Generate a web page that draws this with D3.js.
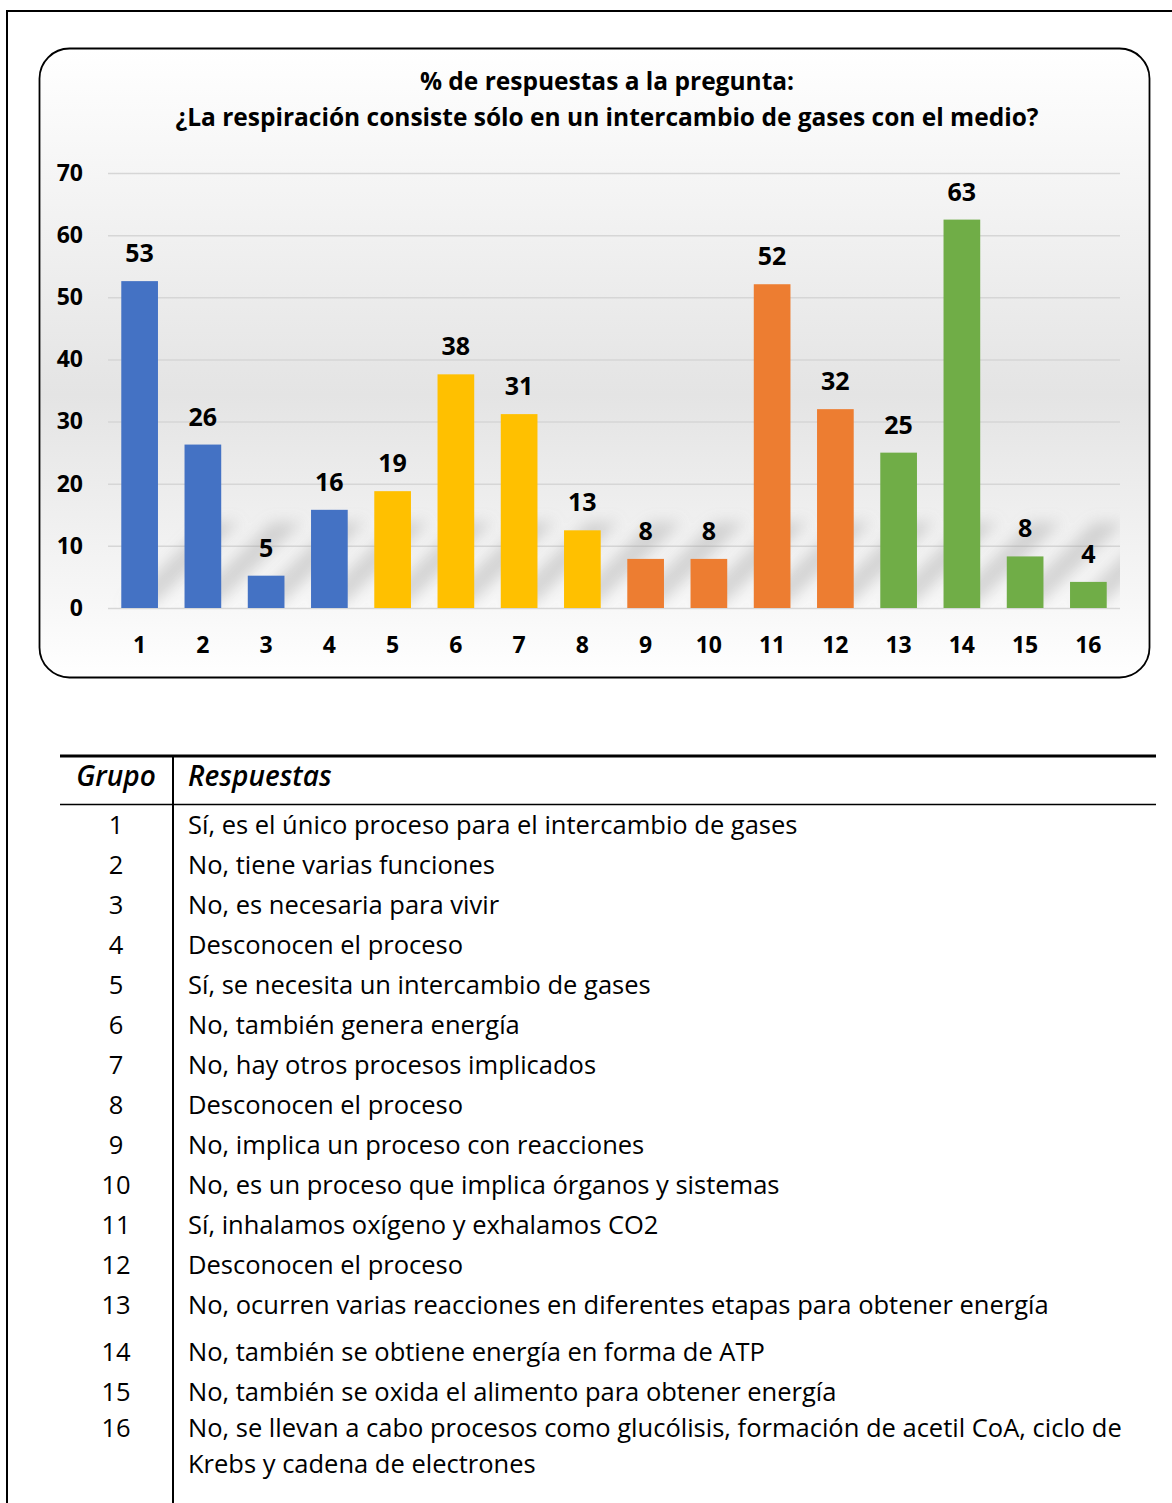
<!DOCTYPE html>
<html>
<head>
<meta charset="utf-8">
<script src="https://cdn.jsdelivr.net/npm/d3@7"></script>
<style>
  body { margin: 0; background: #fff; }
  text { font-family: "Open Sans", Lato, sans-serif; fill: #000; }
</style>
</head>
<body>
<div id="page"></div>
<script>
// data
var grupos = ["1","2","3","4","5","6","7","8","9","10","11","12","13","14","15","16"]
var porcentajes = [52.6, 26.3, 5.2, 15.8, 18.8, 37.6, 31.2, 12.5, 7.9, 7.9, 52.1, 32.0, 25.0, 62.5, 8.3, 4.2]
var colores = ["#4472C4","#4472C4","#4472C4","#4472C4",
               "#FFC000","#FFC000","#FFC000","#FFC000",
               "#ED7D31","#ED7D31","#ED7D31","#ED7D31",
               "#70AD47","#70AD47","#70AD47","#70AD47"]
var yTicks = [0, 10, 20, 30, 40, 50, 60, 70]
var titulo = ["% de respuestas a la pregunta:",
              "¿La respiración consiste sólo en un intercambio de gases con el medio?"]
var cabecera = ["Grupo", "Respuestas"]
var respuestas = [
  ["Sí, es el único proceso para el intercambio de gases"],
  ["No, tiene varias funciones"],
  ["No, es necesaria para vivir"],
  ["Desconocen el proceso"],
  ["Sí, se necesita un intercambio de gases"],
  ["No, también genera energía"],
  ["No, hay otros procesos implicados"],
  ["Desconocen el proceso"],
  ["No, implica un proceso con reacciones"],
  ["No, es un proceso que implica órganos y sistemas"],
  ["Sí, inhalamos oxígeno y exhalamos CO2"],
  ["Desconocen el proceso"],
  ["No, ocurren varias reacciones en diferentes etapas para obtener energía"],
  ["No, también se obtiene energía en forma de ATP"],
  ["No, también se oxida el alimento para obtener energía"],
  ["No, se llevan a cabo procesos como glucólisis, formación de acetil CoA, ciclo de",
   "Krebs y cadena de electrones"]
]

var W = 1172, H = 1503

var svg = d3.select("#page").append("svg")
  .attr("width", W)
  .attr("height", H)

var defs = svg.append("defs")
var grad = defs.append("linearGradient")
  .attr("id", "fondo")
  .attr("x1", 0).attr("y1", 0).attr("x2", 0).attr("y2", 1)
grad.append("stop").attr("offset", "0%").attr("stop-color", "#ffffff")
grad.append("stop").attr("offset", "55%").attr("stop-color", "#e4e4e4")
grad.append("stop").attr("offset", "88%").attr("stop-color", "#f7f7f7")
grad.append("stop").attr("offset", "100%").attr("stop-color", "#ffffff")

defs.append("filter").attr("id", "blur")
  .attr("x", "-50%").attr("y", "-50%").attr("width", "200%").attr("height", "200%")
  .append("feGaussianBlur").attr("stdDeviation", 7)

var x = d3.scaleBand()
  .domain(grupos)
  .range([108, 1120])
  .paddingInner(0.42)
  .paddingOuter(0.21)

var y = d3.scaleLinear()
  .domain([0, 70])
  .range([608, 173])

defs.append("clipPath").attr("id", "zona")
  .append("rect")
  .attr("x", x.range()[0]).attr("y", y(70))
  .attr("width", x.range()[1] - x.range()[0]).attr("height", y(0) - y(70))

// page frame
svg.append("path")
  .attr("d", "M7," + H + "V11H" + W)
  .attr("fill", "none")
  .attr("stroke", "#000")
  .attr("stroke-width", 2)

// chart box
svg.append("rect")
  .attr("x", 39.5).attr("y", 48.5)
  .attr("width", 1110).attr("height", 629)
  .attr("rx", 30)
  .attr("fill", "url(#fondo)")
  .attr("stroke", "#000")
  .attr("stroke-width", 1.8)

// grid + y labels
var gy = svg.append("g")
  .attr("transform", "translate(108,0)")
  .call(d3.axisLeft(y).tickValues(yTicks).tickSize(-1012).tickPadding(25))
gy.select(".domain").remove()
gy.selectAll("line").attr("stroke", "#d6d6d6").attr("stroke-width", 1.5)
gy.selectAll("text")
  .attr("font-size", 23)
  .attr("font-weight", "bold")
  .attr("fill", "#000")
  .attr("font-family", "'Open Sans', sans-serif")

// x labels
var gx = svg.append("g")
  .attr("transform", "translate(0,608)")
  .call(d3.axisBottom(x).tickSize(0).tickPadding(28.5))
gx.select(".domain").remove()
gx.selectAll("text")
  .attr("font-size", 23)
  .attr("font-weight", "bold")
  .attr("fill", "#000")
  .attr("font-family", "'Open Sans', sans-serif")

// diagonal soft shadows behind the bars
var sombraAlto = 82, sombraDx = 84
svg.append("g")
  .attr("clip-path", "url(#zona)")
  .append("g")
  .attr("filter", "url(#blur)")
  .selectAll("path")
  .data(porcentajes)
  .enter()
  .append("path")
  .attr("fill", "#9a9a9a")
  .attr("opacity", 0.36)
  .attr("d", (d, i) => {
    var x0 = x(grupos[i]) + 3, x1 = x0 + x.bandwidth() - 6, b = y(0) - 4
    return "M" + x0 + "," + b + "L" + x1 + "," + b +
      "L" + (x1 + sombraDx) + "," + (b - sombraAlto) +
      "L" + (x0 + sombraDx) + "," + (b - sombraAlto) + "Z"
  })

// bars
svg.append("g")
  .selectAll("rect")
  .data(porcentajes)
  .enter()
  .append("rect")
  .attr("x", (d, i) => x(grupos[i]))
  .attr("y", d => y(d))
  .attr("width", x.bandwidth())
  .attr("height", d => y(0) - y(d))
  .attr("fill", (d, i) => colores[i])

// value labels
svg.append("g")
  .selectAll("text")
  .data(porcentajes)
  .enter()
  .append("text")
  .attr("x", (d, i) => x(grupos[i]) + x.bandwidth() / 2)
  .attr("y", d => y(d) - 19)
  .attr("text-anchor", "middle")
  .attr("font-size", 25)
  .attr("font-weight", "bold")
  .text(d => Math.round(d))

// title
svg.append("g")
  .selectAll("text")
  .data(titulo)
  .enter()
  .append("text")
  .attr("x", 607)
  .attr("y", (d, i) => 90 + i * 36)
  .attr("text-anchor", "middle")
  .attr("font-size", 24.5)
  .attr("font-weight", "bold")
  .text(d => d)

// table
var tabla = svg.append("g")
tabla.append("line")
  .attr("x1", 60).attr("x2", 1156).attr("y1", 756).attr("y2", 756)
  .attr("stroke", "#000").attr("stroke-width", 3)
tabla.append("line")
  .attr("x1", 60).attr("x2", 1156).attr("y1", 804.5).attr("y2", 804.5)
  .attr("stroke", "#000").attr("stroke-width", 1.5)
tabla.append("line")
  .attr("x1", 173).attr("x2", 173).attr("y1", 756).attr("y2", H)
  .attr("stroke", "#000").attr("stroke-width", 2)

tabla.append("text")
  .attr("x", 116).attr("y", 786)
  .attr("text-anchor", "middle")
  .attr("font-size", 28).attr("font-weight", 600).attr("font-style", "italic")
  .text(cabecera[0])
tabla.append("text")
  .attr("x", 188).attr("y", 786)
  .attr("font-size", 28).attr("font-weight", 600).attr("font-style", "italic")
  .text(cabecera[1])

function filaY(i) {
  var yy = 834 + i * 40
  if (i >= 13) yy += 7
  if (i >= 15) yy -= 4
  return yy
}

var filas = tabla.selectAll(".fila")
  .data(respuestas)
  .enter()
  .append("g")
  .attr("class", "fila")

filas.append("text")
  .attr("x", 116)
  .attr("y", (d, i) => filaY(i))
  .attr("text-anchor", "middle")
  .attr("font-size", 25.5)
  .text((d, i) => grupos[i])

filas.append("text")
  .attr("x", 188)
  .attr("y", (d, i) => filaY(i))
  .attr("font-size", 25.5)
  .selectAll("tspan")
  .data(d => d)
  .enter()
  .append("tspan")
  .attr("x", 188)
  .attr("dy", (d, j) => j === 0 ? 0 : 36)
  .text(d => d)
</script>
</body>
</html>
